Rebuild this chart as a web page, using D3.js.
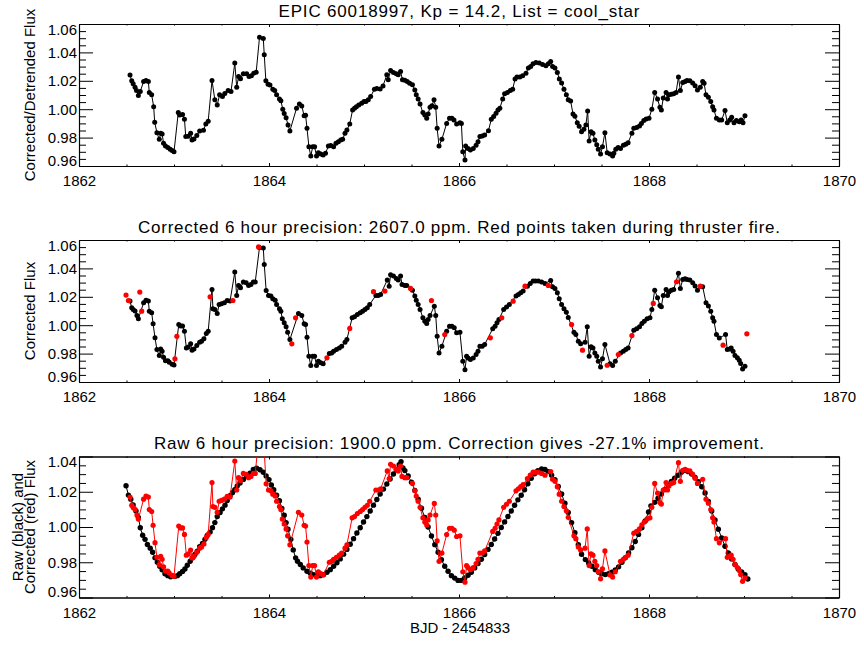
<!DOCTYPE html>
<html><head><meta charset="utf-8">
<script src="https://cdn.jsdelivr.net/npm/d3@7"></script>
<style>
html,body{margin:0;padding:0;background:#fff;}
svg{display:block;font-family:"Liberation Sans",Arial,Helvetica,sans-serif;}
</style></head><body>
<svg id="chart" width="864" height="648"></svg>
<script>
// ---------------- DATA ----------------
const xTicks = [1862, 1864, 1866, 1868, 1870];
const yTicksWide = [0.96, 0.98, 1.00, 1.02, 1.04, 1.06];
const yTicksNarrow = [0.96, 0.98, 1.00, 1.02, 1.04];
const titles = [
  "EPIC 60018997, Kp = 14.2, List = cool_star",
  "Corrected 6 hour precision: 2607.0 ppm. Red points taken during thruster fire.",
  "Raw 6 hour precision: 1900.0 ppm. Correction gives -27.1% improvement."
];
const yLabels = [["Corrected/Detrended Flux"], ["Corrected Flux"], ["Raw (black) and", "Corrected (red) Flux"]];
const xLabel = "BJD - 2454833";

// Panel 1: corrected / detrended flux
const detrTime = [
1862.537,1862.555,1862.570,1862.590,1862.605,1862.625,1862.645,1862.680,1862.705,1862.730,
1862.740,1862.765,1862.786,1862.797,1862.820,1862.845,1862.860,1862.875,1862.890,1862.910,
1862.935,1862.960,1862.980,1863.000,1863.045,1863.060,1863.090,1863.110,1863.124,1863.150,
1863.175,1863.190,1863.210,1863.240,1863.270,1863.310,1863.335,1863.360,1863.400,1863.430,
1863.455,1863.480,1863.510,1863.535,1863.570,1863.600,1863.640,1863.660,1863.680,1863.700,
1863.730,1863.765,1863.790,1863.815,1863.840,1863.865,1863.900,1863.940,1863.950,1863.967,
1863.990,1864.010,1864.040,1864.060,1864.080,1864.110,1864.125,1864.145,1864.160,1864.180,
1864.200,1864.220,1864.290,1864.320,1864.345,1864.370,1864.385,1864.400,1864.420,1864.440,
1864.460,1864.480,1864.500,1864.520,1864.545,1864.570,1864.595,1864.625,1864.650,1864.680,
1864.705,1864.730,1864.755,1864.775,1864.800,1864.820,1864.850,1864.880,1864.900,1864.920,
1864.945,1864.975,1865.000,1865.020,1865.045,1865.070,1865.110,1865.135,1865.170,1865.200,
1865.240,1865.255,1865.280,1865.310,1865.340,1865.360,1865.385,1865.405,1865.430,1865.455,
1865.480,1865.510,1865.535,1865.550,1865.570,1865.590,1865.620,1865.640,1865.660,1865.675,
1865.695,1865.715,1865.737,1865.755,1865.770,1865.790,1865.820,1865.870,1865.900,1865.925,
1865.947,1865.975,1866.010,1866.025,1866.040,1866.063,1866.070,1866.095,1866.120,1866.150,
1866.180,1866.200,1866.220,1866.245,1866.270,1866.310,1866.340,1866.365,1866.390,1866.410,
1866.430,1866.460,1866.480,1866.510,1866.540,1866.565,1866.590,1866.610,1866.640,1866.670,
1866.705,1866.730,1866.755,1866.780,1866.810,1866.845,1866.880,1866.915,1866.940,1866.965,
1866.985,1867.010,1867.035,1867.056,1867.080,1867.105,1867.130,1867.150,1867.175,1867.200,
1867.220,1867.245,1867.265,1867.290,1867.315,1867.336,1867.354,1867.370,1867.390,1867.410,
1867.430,1867.450,1867.466,1867.490,1867.510,1867.536,1867.560,1867.590,1867.617,1867.630,
1867.650,1867.675,1867.700,1867.730,1867.755,1867.780,1867.820,1867.840,1867.870,1867.900,
1867.920,1867.945,1867.970,1868.000,1868.030,1868.060,1868.090,1868.115,1868.130,1868.150,
1868.180,1868.195,1868.210,1868.235,1868.260,1868.285,1868.310,1868.330,1868.355,1868.380,
1868.400,1868.430,1868.460,1868.485,1868.510,1868.540,1868.565,1868.580,1868.600,1868.625,
1868.650,1868.670,1868.684,1868.710,1868.740,1868.765,1868.800,1868.824,1868.850,1868.870,
1868.895,1868.920,1868.950,1868.970,1868.990,1869.010];
const detrFlux = [
1.0240,1.0200,1.0180,1.0155,1.0132,1.0096,1.0125,1.0195,1.0202,1.0195,
1.0118,1.0101,1.0018,0.9908,0.9835,0.9788,0.9830,0.9825,0.9760,0.9740,
0.9730,0.9718,0.9710,0.9700,0.9976,0.9960,0.9962,0.9929,0.9807,0.9810,
0.9830,0.9783,0.9790,0.9814,0.9847,0.9852,0.9896,0.9915,1.0202,1.0066,
1.0030,1.0101,1.0090,1.0110,1.0131,1.0125,1.0325,1.0155,1.0230,1.0215,
1.0250,1.0250,1.0230,1.0236,1.0254,1.0260,1.0506,1.0498,1.0383,1.0200,
1.0175,1.0170,1.0140,1.0132,1.0101,1.0071,1.0060,1.0000,0.9970,0.9940,
0.9889,0.9847,1.0007,1.0037,1.0023,0.9953,0.9958,0.9866,0.9736,0.9670,
0.9736,0.9736,0.9670,0.9694,0.9685,0.9677,0.9690,0.9740,0.9745,0.9736,
0.9760,0.9771,0.9783,0.9788,0.9830,0.9854,0.9896,0.9995,1.0007,1.0018,
1.0030,1.0042,1.0054,1.0054,1.0066,1.0089,1.0141,1.0146,1.0143,1.0164,
1.0242,1.0207,1.0272,1.0258,1.0250,1.0243,1.0265,1.0207,1.0203,1.0195,
1.0183,1.0172,1.0136,1.0101,1.0071,1.0037,0.9976,0.9960,0.9936,0.9966,
1.0014,1.0024,1.0066,1.0014,0.9866,0.9740,0.9788,0.9900,0.9936,0.9936,
0.9924,0.9896,0.9905,0.9900,0.9700,0.9642,0.9740,0.9724,0.9712,0.9724,
0.9747,0.9771,0.9807,0.9811,0.9818,0.9849,0.9929,0.9948,0.9972,0.9995,
1.0007,1.0071,1.0108,1.0117,1.0131,1.0141,1.0212,1.0226,1.0226,1.0235,
1.0254,1.0290,1.0301,1.0320,1.0329,1.0325,1.0315,1.0306,1.0320,1.0336,
1.0301,1.0290,1.0259,1.0212,1.0184,1.0141,1.0101,1.0066,1.0057,0.9967,
0.9950,0.9905,0.9880,0.9842,0.9858,0.9889,0.9988,0.9776,0.9842,0.9830,
0.9783,0.9750,0.9718,0.9684,0.9736,0.9835,0.9694,0.9684,0.9670,0.9690,
0.9718,0.9730,0.9724,0.9747,0.9754,0.9764,0.9830,0.9866,0.9872,0.9882,
0.9900,0.9920,0.9931,0.9936,1.0000,1.0118,1.0071,1.0014,0.9995,1.0078,
1.0118,1.0071,1.0101,1.0106,1.0108,1.0118,1.0226,1.0131,1.0188,1.0195,
1.0202,1.0200,1.0184,1.0165,1.0136,1.0155,1.0195,1.0183,1.0101,1.0085,
1.0054,1.0018,0.9995,0.9936,0.9924,0.9924,0.9990,0.9905,0.9924,0.9943,
0.9905,0.9920,0.9912,0.9924,0.9905,0.9953];

// Panel 2: corrected flux, with thruster-fire flag (1 = red point)
const corrTime = [
1862.495,1862.520,1862.537,1862.555,1862.570,1862.590,1862.610,1862.625,1862.640,1862.660,
1862.680,1862.705,1862.730,1862.740,1862.765,1862.780,1862.800,1862.820,1862.845,1862.860,
1862.875,1862.890,1862.910,1862.935,1862.950,1862.980,1863.000,1863.010,1863.030,1863.050,
1863.070,1863.090,1863.110,1863.130,1863.150,1863.175,1863.190,1863.210,1863.240,1863.270,
1863.290,1863.315,1863.340,1863.360,1863.380,1863.400,1863.410,1863.430,1863.455,1863.475,
1863.500,1863.530,1863.560,1863.590,1863.620,1863.640,1863.660,1863.680,1863.700,1863.730,
1863.760,1863.785,1863.810,1863.835,1863.855,1863.890,1863.900,1863.940,1863.950,1863.970,
1863.995,1864.020,1864.040,1864.065,1864.080,1864.110,1864.125,1864.140,1864.160,1864.180,
1864.196,1864.220,1864.240,1864.280,1864.310,1864.345,1864.370,1864.385,1864.400,1864.420,
1864.440,1864.460,1864.480,1864.500,1864.520,1864.545,1864.570,1864.610,1864.635,1864.660,
1864.680,1864.710,1864.740,1864.765,1864.800,1864.820,1864.850,1864.875,1864.900,1864.930,
1864.960,1864.985,1865.010,1865.035,1865.060,1865.100,1865.125,1865.150,1865.175,1865.220,
1865.245,1865.265,1865.280,1865.310,1865.340,1865.360,1865.385,1865.400,1865.430,1865.450,
1865.490,1865.510,1865.535,1865.550,1865.570,1865.590,1865.620,1865.640,1865.660,1865.675,
1865.695,1865.710,1865.740,1865.755,1865.770,1865.790,1865.820,1865.850,1865.870,1865.900,
1865.925,1865.950,1865.975,1866.010,1866.040,1866.063,1866.080,1866.095,1866.120,1866.150,
1866.180,1866.200,1866.220,1866.245,1866.270,1866.330,1866.355,1866.380,1866.400,1866.420,
1866.450,1866.470,1866.500,1866.530,1866.570,1866.600,1866.625,1866.650,1866.675,1866.695,
1866.720,1866.750,1866.780,1866.805,1866.835,1866.870,1866.905,1866.940,1866.965,1866.985,
1867.010,1867.035,1867.055,1867.080,1867.105,1867.130,1867.150,1867.185,1867.210,1867.230,
1867.256,1867.280,1867.300,1867.327,1867.350,1867.370,1867.390,1867.410,1867.430,1867.450,
1867.466,1867.490,1867.510,1867.536,1867.560,1867.590,1867.617,1867.645,1867.677,1867.700,
1867.730,1867.755,1867.780,1867.820,1867.840,1867.870,1867.900,1867.925,1867.950,1867.980,
1868.010,1868.030,1868.045,1868.060,1868.090,1868.115,1868.130,1868.150,1868.180,1868.195,
1868.210,1868.235,1868.260,1868.290,1868.310,1868.330,1868.355,1868.380,1868.400,1868.430,
1868.460,1868.485,1868.510,1868.540,1868.565,1868.600,1868.625,1868.650,1868.670,1868.684,
1868.710,1868.740,1868.780,1868.806,1868.824,1868.850,1868.865,1868.885,1868.905,1868.930,
1868.950,1868.965,1868.985,1869.010,1869.030];
const corrFlux = [
1.0212,1.0174,1.0170,1.0123,1.0110,1.0100,1.0068,1.0045,1.0233,1.0099,
1.0158,1.0176,1.0170,1.0099,1.0088,1.0010,0.9911,0.9828,0.9786,0.9833,
0.9817,0.9774,0.9750,0.9750,0.9739,0.9725,0.9720,0.9763,0.9922,1.0005,
0.9995,0.9995,0.9958,0.9840,0.9847,0.9869,0.9824,0.9833,0.9857,0.9880,
0.9887,0.9904,0.9941,0.9958,1.0200,1.0252,1.0116,1.0111,1.0083,1.0146,
1.0151,1.0158,1.0174,1.0170,1.0174,1.0374,1.0210,1.0280,1.0264,1.0304,
1.0299,1.0280,1.0287,1.0304,1.0304,1.0551,1.0548,1.0544,1.0428,1.0245,
1.0210,1.0205,1.0186,1.0176,1.0146,1.0116,1.0099,1.0045,1.0017,0.9989,
0.9950,0.9899,0.9869,1.0052,1.0083,1.0068,1.0010,1.0005,0.9915,0.9781,
0.9716,0.9781,0.9781,0.9716,0.9746,0.9735,0.9728,0.9770,0.9800,0.9805,
0.9817,0.9828,0.9840,0.9852,0.9880,0.9899,0.9977,1.0052,1.0059,1.0076,
1.0088,1.0099,1.0111,1.0123,1.0146,1.0236,1.0210,1.0210,1.0217,1.0240,
1.0318,1.0275,1.0356,1.0346,1.0328,1.0318,1.0346,1.0287,1.0280,1.0280,
1.0259,1.0247,1.0205,1.0176,1.0146,1.0111,1.0052,1.0028,1.0012,1.0040,
1.0068,1.0174,1.0134,1.0068,0.9922,0.9805,0.9852,0.9934,0.9957,0.9993,
0.9993,0.9982,0.9946,0.9950,0.9746,0.9687,0.9781,0.9769,0.9758,0.9769,
0.9793,0.9817,0.9852,0.9852,0.9864,0.9911,0.9975,0.9993,1.0017,1.0040,
1.0052,1.0111,1.0129,1.0146,1.0169,1.0205,1.0217,1.0229,1.0240,1.0275,
1.0275,1.0294,1.0311,1.0311,1.0311,1.0304,1.0294,1.0280,1.0315,1.0271,
1.0259,1.0229,1.0186,1.0146,1.0116,1.0092,1.0055,1.0005,0.9950,0.9934,
0.9887,0.9870,0.9824,0.9880,0.9989,0.9781,0.9848,0.9840,0.9805,0.9781,
0.9746,0.9706,0.9763,0.9864,0.9718,0.9728,0.9716,0.9746,0.9793,0.9805,
0.9817,0.9828,0.9840,0.9927,0.9965,0.9975,0.9989,1.0012,1.0028,1.0046,
1.0052,1.0111,1.0153,1.0247,1.0193,1.0139,1.0130,1.0210,1.0252,1.0210,
1.0233,1.0247,1.0252,1.0306,1.0365,1.0259,1.0322,1.0327,1.0322,1.0318,
1.0299,1.0276,1.0247,1.0275,1.0271,1.0158,1.0135,1.0099,1.0052,1.0028,
0.9934,0.9910,0.9859,0.9934,0.9828,0.9833,0.9840,0.9817,0.9786,0.9770,
0.9753,0.9730,0.9692,0.9711,0.9939];
const corrThruster = [
1,1,0,0,0,0,0,0,1,1,
0,0,0,0,0,0,0,0,0,0,
0,0,0,0,0,0,0,1,1,0,
0,0,0,0,0,0,0,0,0,0,
0,0,0,0,1,0,0,0,0,0,
0,0,0,0,1,0,0,0,0,0,
0,0,0,0,0,1,0,0,0,0,
0,0,0,0,0,0,0,0,0,0,
0,0,1,1,0,0,0,0,0,0,
0,0,0,0,0,0,0,1,0,0,
0,0,0,0,0,0,1,0,0,0,
0,0,0,0,0,1,0,0,0,1,
0,0,0,0,0,0,0,0,0,0,
1,0,0,0,0,0,0,0,0,0,
0,1,0,0,0,0,0,1,0,0,
0,0,0,0,0,0,0,0,0,0,
0,0,0,0,0,1,0,0,0,0,
1,0,0,0,1,0,0,0,0,1,
0,0,0,0,0,0,0,1,0,0,
0,0,0,0,0,0,0,1,0,0,
0,0,1,0,0,0,0,0,0,0,
0,0,0,0,1,0,0,0,1,0,
0,0,0,1,0,0,0,0,0,0,
0,0,1,0,0,0,0,0,0,0,
0,0,0,1,0,0,0,0,0,0,
0,0,0,1,0,0,0,0,0,0,
0,0,1,0,0,0,0,0,0,0,
0,0,0,0,1];

// Panel 3: raw flux (black)
const rawTime = [
1862.495,1862.520,1862.545,1862.570,1862.600,1862.625,1862.645,1862.670,1862.695,1862.720,
1862.750,1862.775,1862.800,1862.825,1862.850,1862.875,1862.905,1862.935,1862.965,1863.010,
1863.035,1863.060,1863.090,1863.115,1863.140,1863.170,1863.195,1863.220,1863.245,1863.270,
1863.300,1863.326,1863.350,1863.380,1863.405,1863.430,1863.455,1863.485,1863.510,1863.537,
1863.560,1863.590,1863.615,1863.640,1863.665,1863.695,1863.730,1863.765,1863.800,1863.835,
1863.870,1863.905,1863.940,1863.970,1864.000,1864.025,1864.050,1864.080,1864.110,1864.135,
1864.160,1864.180,1864.200,1864.230,1864.255,1864.280,1864.300,1864.330,1864.360,1864.400,
1864.435,1864.470,1864.505,1864.540,1864.575,1864.610,1864.645,1864.680,1864.715,1864.750,
1864.785,1864.820,1864.855,1864.890,1864.925,1864.960,1864.995,1865.030,1865.065,1865.100,
1865.135,1865.170,1865.205,1865.240,1865.275,1865.310,1865.340,1865.370,1865.390,1865.410,
1865.430,1865.465,1865.500,1865.535,1865.570,1865.605,1865.640,1865.675,1865.710,1865.745,
1865.780,1865.815,1865.850,1865.885,1865.920,1865.955,1865.990,1866.025,1866.060,1866.095,
1866.130,1866.165,1866.200,1866.235,1866.270,1866.305,1866.340,1866.375,1866.410,1866.445,
1866.480,1866.515,1866.550,1866.585,1866.620,1866.655,1866.690,1866.725,1866.760,1866.795,
1866.830,1866.870,1866.905,1866.940,1866.975,1867.010,1867.045,1867.080,1867.115,1867.150,
1867.185,1867.220,1867.256,1867.290,1867.330,1867.365,1867.400,1867.435,1867.470,1867.505,
1867.540,1867.575,1867.610,1867.645,1867.680,1867.715,1867.750,1867.785,1867.820,1867.855,
1867.890,1867.925,1867.960,1867.995,1868.020,1868.060,1868.095,1868.130,1868.165,1868.200,
1868.235,1868.270,1868.305,1868.340,1868.380,1868.415,1868.450,1868.485,1868.520,1868.555,
1868.590,1868.625,1868.660,1868.695,1868.730,1868.765,1868.800,1868.835,1868.870,1868.905,
1868.940,1868.975,1869.010,1869.040];
const rawFlux = [
1.0234,1.0181,1.0158,1.0125,1.0091,1.0054,0.9996,0.9953,0.9930,0.9901,
0.9880,0.9857,0.9825,0.9800,0.9777,0.9757,0.9735,0.9724,0.9718,0.9720,
0.9724,0.9735,0.9748,0.9762,0.9783,0.9806,0.9825,0.9844,0.9863,0.9888,
0.9907,0.9930,0.9952,0.9971,0.9996,1.0025,1.0059,1.0082,1.0103,1.0124,
1.0150,1.0177,1.0195,1.0211,1.0232,1.0250,1.0270,1.0288,1.0305,1.0326,
1.0334,1.0325,1.0311,1.0290,1.0269,1.0238,1.0211,1.0181,1.0149,1.0105,
1.0067,1.0025,0.9987,0.9930,0.9870,0.9825,0.9806,0.9787,0.9768,0.9749,
0.9738,0.9730,0.9725,0.9724,0.9730,0.9743,0.9758,0.9777,0.9797,0.9819,
0.9846,0.9873,0.9902,0.9934,0.9966,0.9996,1.0028,1.0059,1.0091,1.0124,
1.0156,1.0187,1.0215,1.0244,1.0272,1.0301,1.0326,1.0353,1.0371,1.0335,
1.0320,1.0290,1.0254,1.0208,1.0158,1.0106,1.0054,1.0000,0.9949,0.9900,
0.9857,0.9814,0.9777,0.9749,0.9724,0.9710,0.9697,0.9697,0.9711,0.9726,
0.9743,0.9768,0.9793,0.9817,0.9844,0.9873,0.9901,0.9932,0.9964,0.9997,
1.0029,1.0060,1.0091,1.0123,1.0154,1.0180,1.0211,1.0245,1.0277,1.0302,
1.0320,1.0330,1.0326,1.0314,1.0294,1.0269,1.0230,1.0187,1.0135,1.0082,
1.0025,0.9968,0.9900,0.9845,0.9815,0.9796,0.9777,0.9758,0.9743,0.9735,
0.9730,0.9735,0.9743,0.9756,0.9774,0.9800,0.9825,0.9853,0.9882,0.9918,
0.9958,0.9996,1.0034,1.0085,1.0120,1.0140,1.0163,1.0187,1.0212,1.0238,
1.0258,1.0277,1.0294,1.0311,1.0320,1.0314,1.0301,1.0281,1.0257,1.0228,
1.0193,1.0145,1.0091,1.0040,0.9987,0.9938,0.9891,0.9853,0.9819,0.9788,
0.9762,0.9745,0.9730,0.9705];

// ---------------- DRAWING ----------------
const svg = d3.select("#chart");
svg.append("rect").attr("width", 864).attr("height", 648).attr("fill", "#fff");

const plotLeft = 79, plotRight = 839;
const panels = [
  {top: 24, bottom: 166, yDomain: [0.96, 1.06], yTicks: yTicksWide, titleY: 17, titleW: 361},
  {top: 240, bottom: 382, yDomain: [0.96, 1.06], yTicks: yTicksWide, titleY: 233, titleW: 642},
  {top: 456.5, bottom: 597.5, yDomain: [0.96, 1.04], yTicks: yTicksNarrow, titleY: 449, titleW: 610}
];

const x = d3.scaleLinear().domain([xTicks[0], xTicks[xTicks.length - 1]]).range([plotLeft, plotRight]);
const xMinor = d3.range(1862.5, 1870, 0.5).filter(v => Math.abs(v - Math.round(v / 2) * 2) > 1e-6);

const detrPts = detrTime.map((t, i) => ({t, f: detrFlux[i]}));
const corrPts = corrTime.map((t, i) => ({t, f: corrFlux[i], red: corrThruster[i] === 1}));
const corrGood = corrPts.filter(d => !d.red);
const corrRed = corrPts.filter(d => d.red);
const rawPts = rawTime.map((t, i) => ({t, f: rawFlux[i]}));

function styleAxis(g) {
  g.attr("font-family", null).attr("font-size", 15);
  g.selectAll("path.domain").attr("stroke", "#000").attr("stroke-width", 1.1);
  g.selectAll(".tick line").attr("stroke", "#000").attr("stroke-width", 1);
  g.selectAll("text").attr("fill", "#000");
}

panels.forEach((p, pi) => {
  const y = d3.scaleLinear().domain(p.yDomain).range([p.bottom, p.top]);
  const yMinor = d3.range(p.yDomain[0], p.yDomain[1] + 1e-9, 0.005)
    .filter(v => !p.yTicks.some(t => Math.abs(t - v) < 1e-6));
  const g = svg.append("g");

  const clipId = "clip" + pi;
  svg.append("defs").append("clipPath").attr("id", clipId)
    .append("rect").attr("x", plotLeft).attr("y", p.top)
    .attr("width", plotRight - plotLeft).attr("height", p.bottom - p.top);

  // minor ticks
  g.append("g").attr("transform", `translate(0,${p.bottom})`)
    .call(d3.axisBottom(x).tickValues(xMinor).tickSizeInner(-1.5).tickSizeOuter(0).tickFormat(""))
    .call(styleAxis);
  g.append("g").attr("transform", `translate(0,${p.top})`)
    .call(d3.axisTop(x).tickValues(xMinor).tickSizeInner(-1.5).tickSizeOuter(0).tickFormat(""))
    .call(styleAxis);
  g.append("g").attr("transform", `translate(${plotLeft},0)`)
    .call(d3.axisLeft(y).tickValues(yMinor).tickSizeInner(-7).tickSizeOuter(0).tickFormat(""))
    .call(styleAxis);
  g.append("g").attr("transform", `translate(${plotRight},0)`)
    .call(d3.axisRight(y).tickValues(yMinor).tickSizeInner(-7).tickSizeOuter(0).tickFormat(""))
    .call(styleAxis);

  // major ticks
  g.append("g").attr("transform", `translate(0,${p.bottom})`)
    .call(d3.axisBottom(x).tickValues(xTicks).tickSizeInner(-3).tickSizeOuter(0).tickPadding(9.5).tickFormat(d3.format("d")))
    .call(styleAxis);
  g.append("g").attr("transform", `translate(0,${p.top})`)
    .call(d3.axisTop(x).tickValues(xTicks).tickSizeInner(-3).tickSizeOuter(0).tickFormat(""))
    .call(styleAxis);
  const yl = g.append("g").attr("transform", `translate(${plotLeft},0)`)
    .call(d3.axisLeft(y).tickValues(p.yTicks).tickSizeInner(-14).tickSizeOuter(0).tickPadding(2).tickFormat(d3.format(".2f")))
    .call(styleAxis);
  const lo = p.yTicks[0], hi = p.yTicks[p.yTicks.length - 1];
  yl.selectAll(".tick text").attr("transform", d => {
    if (Math.abs(d - lo) < 1e-9 && Math.abs(y(d) - p.bottom) < 1) return "translate(0,-5.5)";
    if (Math.abs(d - hi) < 1e-9 && Math.abs(y(d) - p.top) < 2) return "translate(0,5.5)";
    return null;
  });
  g.append("g").attr("transform", `translate(${plotRight},0)`)
    .call(d3.axisRight(y).tickValues(p.yTicks).tickSizeInner(-14).tickSizeOuter(0).tickFormat(""))
    .call(styleAxis);

  // title
  svg.append("text").attr("x", (plotLeft + plotRight) / 2).attr("y", p.titleY)
    .attr("text-anchor", "middle").attr("font-size", 17).attr("fill", "#000")
    .attr("textLength", p.titleW).attr("lengthAdjust", "spacing").text(titles[pi]);

  // y label
  const labLines = yLabels[pi];
  const cy = (p.top + p.bottom) / 2;
  const baseX = labLines.length === 1 ? 34.5 : 23;
  labLines.forEach((s, li) => {
    svg.append("text")
      .attr("transform", `translate(${baseX + li * 12},${cy}) rotate(-90)`)
      .attr("text-anchor", "middle").attr("font-size", 15).attr("fill", "#000").text(s);
  });

  // data
  const dg = svg.append("g").attr("clip-path", `url(#${clipId})`);
  const line = d3.line().x(d => x(d.t)).y(d => y(d.f));
  function series(pts, color, r) {
    dg.append("path").datum(pts).attr("d", line).attr("fill", "none")
      .attr("stroke", color).attr("stroke-width", 1);
    dg.append("g").selectAll("circle").data(pts).join("circle")
      .attr("cx", d => x(d.t)).attr("cy", d => y(d.f)).attr("r", r).attr("fill", color);
  }
  if (pi === 0) {
    series(detrPts, "#000", 2.5);
  } else if (pi === 1) {
    series(corrGood, "#000", 2.5);
    dg.append("g").selectAll("circle").data(corrRed).join("circle")
      .attr("cx", d => x(d.t)).attr("cy", d => y(d.f)).attr("r", 2.6).attr("fill", "#ff0000");
  } else {
    series(rawPts, "#000", 2.7);
    series(corrGood, "#ff0000", 2.6);
  }
});

// x label
svg.append("text").attr("x", 460).attr("y", 633).attr("text-anchor", "middle")
  .attr("font-size", 15).attr("fill", "#000").text(xLabel);
</script>
</body></html>
